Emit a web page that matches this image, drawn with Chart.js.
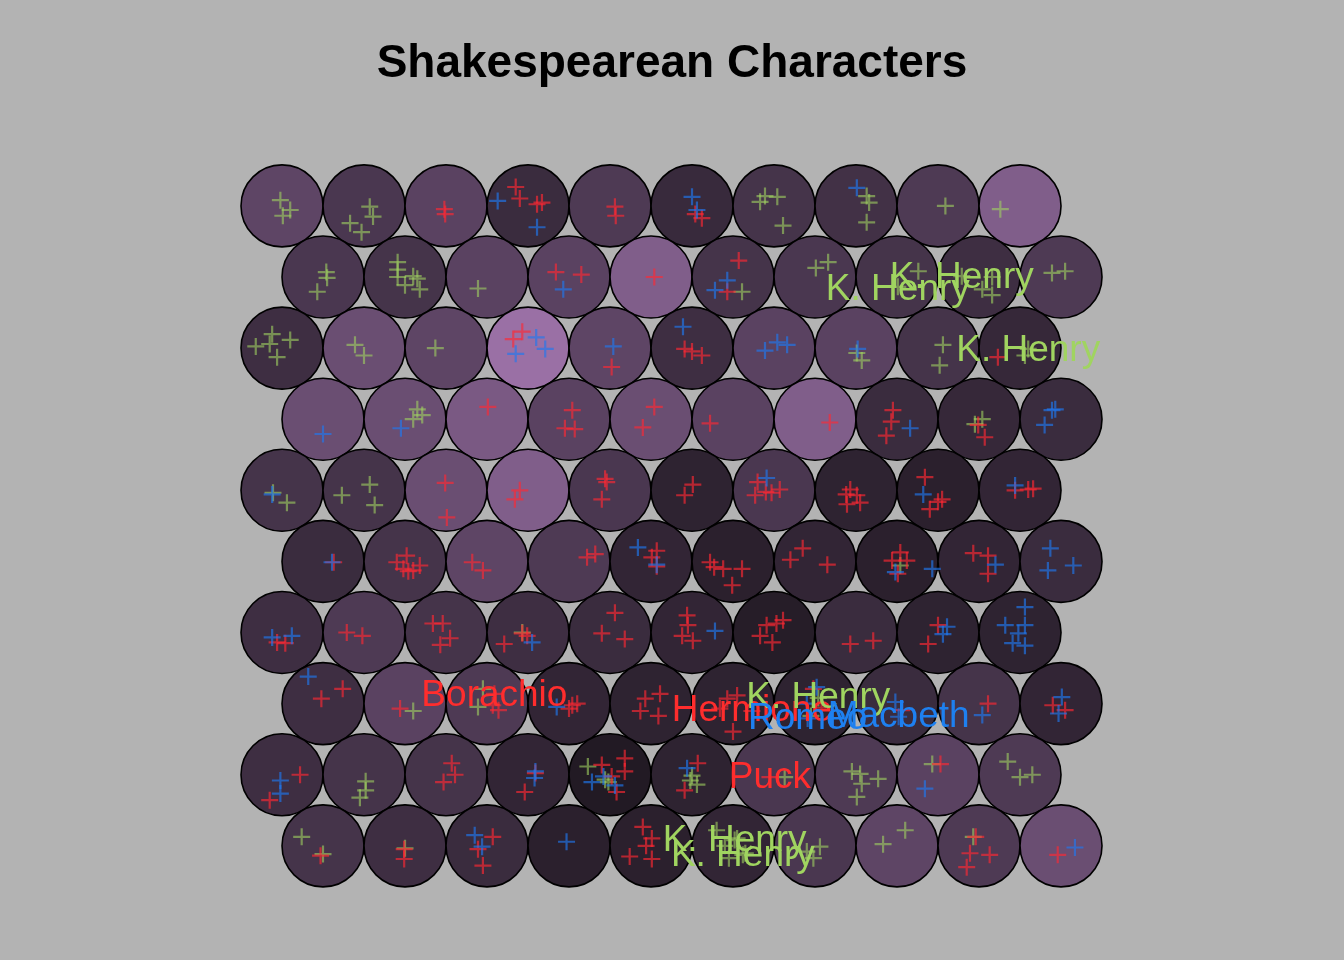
<!DOCTYPE html>
<html><head><meta charset="utf-8">
<script src="https://cdn.jsdelivr.net/npm/chart.js@4/dist/chart.umd.min.js"></script>
<style>html,body{margin:0;padding:0;background:#b3b3b3;}#wrap{width:1344px;height:960px;}</style>
</head><body><div id="wrap"><canvas id="c" width="1344" height="960"></canvas></div>
<script>
// SOM grid 10 x 10 hexagonal, rows numbered from the top
const gridRows = 10, gridCols = 10;
// unit shading (0 = darkest, 1 = lightest)
const unitShade = [
 [0.49,0.33,0.46,0.20,0.36,0.18,0.29,0.26,0.36,0.77],
 [0.33,0.29,0.46,0.46,0.77,0.29,0.33,0.29,0.23,0.36],
 [0.23,0.59,0.49,0.98,0.49,0.23,0.46,0.46,0.29,0.16],
 [0.59,0.59,0.72,0.46,0.59,0.46,0.77,0.20,0.16,0.20],
 [0.29,0.29,0.59,0.77,0.33,0.10,0.33,0.10,0.07,0.13],
 [0.20,0.29,0.49,0.36,0.13,0.07,0.13,0.07,0.13,0.20],
 [0.23,0.36,0.29,0.23,0.20,0.13,0.03,0.20,0.10,0.10],
 [0.23,0.46,0.36,0.13,0.10,0.10,0.10,0.20,0.29,0.13],
 [0.23,0.29,0.29,0.13,0.00,0.10,0.33,0.36,0.46,0.36],
 [0.29,0.23,0.20,0.07,0.07,0.13,0.33,0.49,0.36,0.59]
];
// mapped characters: [row, col, jitterX, jitterY]
const historyPts = [
 [1,1,-0.02,-0.07],[1,1,0.10,0.05],[1,1,0.01,0.12],
 [1,2,0.07,0.01],[1,2,0.11,0.13],[1,2,-0.17,0.21],[1,2,-0.03,0.32],
 [1,7,-0.11,-0.12],[1,7,0.04,-0.11],[1,7,-0.17,-0.05],[1,7,0.11,0.24],
 [1,8,0.13,-0.12],[1,8,0.16,-0.04],[1,8,0.13,0.20],
 [1,9,0.09,0],[1,10,-0.24,0.04],
 [2,1,0.04,-0.06],[2,1,0.05,0.01],[2,1,-0.07,0.18],
 [2,2,-0.09,-0.18],[2,2,-0.09,-0.09],[2,2,-0.09,0],[2,2,0.10,-0.01],[2,2,0.15,0.02],[2,2,0,0.10],[2,2,0.18,0.15],
 [2,3,-0.11,0.14],[2,6,0.11,0.18],
 [2,7,0.01,-0.11],[2,7,0.16,-0.18],
 [2,8,0.26,-0.07],[2,8,0.01,0.12],
 [2,9,0.04,0.15],[2,9,0.16,0.22],[2,9,0.16,0],[2,9,-0.21,-0.01],
 [2,10,-0.11,-0.05],[2,10,0.05,-0.07],
 [3,1,-0.12,-0.17],[3,1,0.10,-0.10],[3,1,-0.15,-0.05],[3,1,-0.32,-0.02],[3,1,-0.06,0.11],
 [3,2,-0.11,-0.04],[3,2,0,0.09],[3,3,-0.13,0],
 [3,8,0.07,0.15],[3,8,0.01,0.06],
 [3,9,0.06,-0.04],[3,9,0.02,0.21],
 [3,10,0.06,0.09],[3,10,0.10,0.01],
 [4,2,0.10,0],[4,2,0.21,-0.05],[4,2,0.15,-0.12],
 [4,9,0.04,0],[4,9,-0.05,0.06],
 [5,1,-0.11,0.03],[5,1,0.06,0.15],
 [5,2,0.07,-0.07],[5,2,-0.27,0.06],[5,2,0.13,0.18],
 [6,8,0.04,0.05],[7,4,-0.07,0],
 [8,2,0.10,0.09],[8,3,-0.05,-0.18],[8,3,-0.11,0.04],
 [8,7,-0.05,0.15],[8,7,0.04,-0.07],
 [9,2,0.02,0.08],[9,2,0.02,0.19],[9,2,-0.05,0.28],
 [9,5,-0.27,-0.10],[9,5,-0.06,0.06],[9,5,-0.02,0.09],
 [9,6,0,0.01],[9,6,0.06,0.12],[9,6,-0.02,0.07],
 [9,7,0.13,0.03],
 [9,8,-0.05,-0.04],[9,8,0.05,-0.01],[9,8,0.27,0.05],[9,8,0.07,0.11],[9,8,0.01,0.27],
 [9,9,-0.07,-0.13],
 [9,10,-0.15,-0.16],[9,10,0,0.03],[9,10,0.15,0],
 [10,1,-0.26,-0.11],[10,1,0,0.10],[10,2,0,0.03],
 [10,6,-0.20,-0.19],[10,6,-0.10,0],[10,6,0.05,-0.09],[10,6,0.15,0.09],[10,6,-0.05,0.15],[10,6,0.02,-0.07],[10,6,0.12,0.11],
 [10,7,0.06,0.01],[10,7,-0.10,0.07],[10,7,-0.02,0.15],
 [10,8,-0.17,-0.02],[10,8,0.10,-0.19],
 [10,9,-0.07,-0.11]
];
const comedyPts = [
 [1,3,-0.02,0.04],[1,3,-0.01,0.10],
 [1,4,-0.15,-0.23],[1,4,-0.10,-0.09],[1,4,0.11,-0.02],[1,4,0.17,-0.04],
 [1,5,0.06,0.01],[1,5,0.07,0.12],
 [1,6,0.04,0.10],[1,6,0.12,0.15],
 [2,4,-0.16,-0.06],[2,4,0.15,-0.03],[2,5,0.04,0],
 [2,6,0.07,-0.20],[2,6,-0.07,0.18],
 [3,4,-0.07,-0.20],[3,4,-0.18,-0.11],[3,5,0.02,0.23],
 [3,6,-0.09,0.01],[3,6,0.0,0.04],[3,6,0.12,0.09],[3,10,-0.27,0.11],
 [4,3,0.01,-0.15],
 [4,4,0.04,-0.11],[4,4,-0.05,0.11],[4,4,0.07,0.12],
 [4,5,0.04,-0.15],[4,5,-0.10,0.10],
 [4,6,-0.28,0.05],[4,7,0.18,0.04],
 [4,8,-0.05,-0.11],[4,8,-0.07,0.03],[4,8,-0.13,0.20],
 [4,9,-0.01,0.07],[4,9,0.07,0.22],
 [5,3,-0.01,-0.09],[5,3,0.01,0.33],
 [5,4,-0.10,0],[5,4,-0.16,0.11],
 [5,5,-0.06,-0.14],[5,5,-0.10,0.11],[5,5,-0.04,-0.10],
 [5,6,0.01,-0.07],[5,6,-0.09,0.06],
 [5,7,-0.20,-0.10],[5,7,-0.23,0.06],[5,7,-0.03,0.03],[5,7,0.07,-0.01],[5,7,-0.10,0.02],
 [5,8,-0.07,-0.01],[5,8,0.01,0.06],[5,8,-0.11,0.17],[5,8,0.05,0.15],[5,8,-0.12,0.05],
 [5,9,-0.16,-0.16],[5,9,0.05,0.11],[5,9,-0.10,0.23],[5,9,0.0,0.14],
 [5,10,-0.06,0],[5,10,0.10,-0.01],[5,10,0.16,-0.02],
 [6,1,0.13,0.01],
 [6,2,-0.10,0.01],[6,2,0.02,-0.07],[6,2,-0.02,0.09],[6,2,0.10,0.11],[6,2,0.18,0.05],[6,2,0.04,0.12],
 [6,3,-0.18,0.01],[6,3,-0.05,0.11],
 [6,4,0.22,-0.05],[6,4,0.32,-0.09],
 [6,5,0.07,-0.13],[6,5,0.01,-0.05],[6,5,0.07,0.06],
 [6,6,-0.28,0.01],[6,6,-0.12,0.09],[6,6,0.11,0.09],[6,6,-0.01,0.29],[6,6,-0.23,0.07],
 [6,7,-0.15,-0.16],[6,7,-0.30,-0.02],[6,7,0.15,0.04],
 [6,8,0.04,-0.11],[6,8,-0.06,-0.01],[6,8,0.12,-0.01],[6,8,0.01,0.15],
 [6,9,-0.07,-0.10],[6,9,0.11,-0.07],[6,9,0.11,0.15],
 [7,1,-0.06,0.12],[7,1,0.04,0.13],
 [7,2,-0.21,0],[7,2,-0.02,0.04],
 [7,3,-0.16,-0.11],[7,3,-0.04,-0.11],[7,3,0.05,0.07],[7,3,-0.07,0.15],
 [7,4,-0.01,0.04],[7,4,-0.29,0.14],[7,4,-0.07,0.01],
 [7,5,0.06,-0.24],[7,5,-0.10,0.01],[7,5,0.18,0.08],
 [7,6,-0.06,-0.21],[7,6,-0.05,-0.09],[7,6,-0.12,0.04],[7,6,0.01,0.10],
 [7,7,-0.09,-0.09],[7,7,0.11,-0.15],[7,7,-0.17,0.04],[7,7,-0.02,0.12],[7,7,0.03,-0.11],
 [7,8,-0.07,0.14],[7,8,0.21,0.10],
 [7,9,0.0,-0.09],[7,9,-0.12,0.14],
 [8,1,0.24,-0.18],[8,1,-0.02,-0.06],[8,2,-0.06,0.06],
 [8,3,0.14,0.08],[8,3,0.07,0.02],[8,3,0.09,-0.12],
 [8,4,0.04,0.02],[8,4,0.10,0],[8,4,0.0,0.06],
 [8,5,-0.07,-0.06],[8,5,0.11,-0.12],[8,5,-0.13,0.09],[8,5,0.09,0.15],
 [8,6,-0.07,-0.06],[8,6,0.05,-0.10],[8,6,0.0,0.34],[8,6,-0.16,0.06],[8,6,0.23,0.09],
 [8,7,-0.02,-0.18],[8,7,0.08,0.05],[8,8,0.06,0.08],[8,9,0.11,0],
 [8,10,-0.10,0.02],[8,10,0.05,0.08],
 [9,1,0.22,0],[9,1,-0.15,0.31],
 [9,3,0.07,-0.14],[9,3,-0.03,0.09],[9,3,0.11,0.0],
 [9,4,0.09,-0.02],[9,4,-0.04,0.21],
 [9,5,0.18,-0.20],[9,5,0.18,-0.04],[9,5,0.08,0.21],[9,5,-0.10,-0.12],[9,5,0.02,0.02],
 [9,6,0.07,-0.14],[9,6,-0.09,0.19],[9,7,-0.05,0.03],[9,9,0.03,-0.13],
 [10,1,-0.03,0.12],[10,2,-0.01,0.04],[10,2,-0.01,0.16],
 [10,3,0.07,-0.11],[10,3,-0.11,0.04],[10,3,-0.05,0.24],
 [10,5,-0.10,-0.23],[10,5,0.01,-0.09],[10,5,-0.26,0.13],[10,5,0.01,0.16],[10,5,-0.06,0.0],
 [10,9,-0.04,-0.11],[10,9,-0.11,0.09],[10,9,0.13,0.11],[10,9,-0.15,0.26],
 [10,10,-0.04,0.11]
];
const tragedyPts = [
 [1,4,-0.37,-0.06],[1,4,0.11,0.26],[1,6,0,-0.11],[1,6,0.06,0.05],[1,8,0.01,-0.22],
 [2,4,-0.07,0.15],[2,6,-0.07,0.04],[2,6,-0.22,0.16],
 [3,4,0.10,-0.13],[3,4,0.21,0.01],[3,4,-0.15,0.07],[3,5,0.04,-0.02],[3,6,-0.11,-0.26],
 [3,7,-0.11,0.03],[3,7,0.04,-0.07],[3,7,0.16,-0.04],[3,8,0.02,0.01],
 [4,1,0,0.18],[4,2,-0.05,0.11],[4,8,0.16,0.11],
 [4,10,-0.11,-0.11],[4,10,-0.20,0.07],[4,10,-0.07,-0.12],
 [5,1,-0.12,0.05],[5,7,-0.09,-0.15],[5,9,-0.18,0.05],[5,10,-0.06,-0.06],
 [6,1,0.11,0.01],[6,5,-0.16,-0.17],[6,5,0.07,0.04],[6,8,-0.02,0.13],[6,8,0.43,0.09],
 [6,9,0.20,0.04],[6,10,-0.13,-0.16],[6,10,-0.16,0.11],[6,10,0.15,0.05],
 [7,1,-0.12,0.06],[7,1,0.12,0.04],[7,4,0.05,0.12],[7,6,0.28,-0.02],
 [7,9,0.11,-0.07],[7,9,0.06,0.02],
 [7,10,0.06,-0.31],[7,10,-0.18,-0.09],[7,10,0.06,-0.09],[7,10,-0.02,0.01],[7,10,-0.09,0.13],[7,10,0.06,0.16],
 [8,1,-0.18,-0.33],[8,4,-0.15,0.04],[8,7,0.02,-0.20],[8,7,-0.10,0.0],[8,7,-0.09,0.18],
 [8,8,-0.02,-0.02],[8,8,0.02,0.16],[8,9,0.04,0.14],[8,10,0.01,-0.08],[8,10,-0.03,0.12],
 [9,1,-0.02,0.07],[9,1,-0.02,0.23],[9,4,0.09,-0.04],[9,4,0.08,0.04],
 [9,5,-0.22,0.09],[9,5,0.06,0.13],[9,5,-0.08,0.02],[9,6,-0.06,-0.08],[9,9,-0.16,0.17],
 [10,3,-0.15,-0.13],[10,3,-0.06,0.01],[10,4,-0.03,-0.05],[10,10,0.17,0.02]
];
// labelled characters
const labelNames = ['K. Henry','K. Henry','K. Henry','Borachio','Hermione','K. Henry','Romeo','Macbeth','Puck','K. Henry','K. Henry'];
const labelGroup = ['history','history','history','comedy','comedy','history','tragedy','tragedy','comedy','history','history'];
const labelCell = [[2,8],[2,9],[3,10],[8,3],[8,6],[8,7],[8,7],[8,8],[9,7],[10,6],[10,6]];
const labelJitter = [[0.01,0.15],[-0.21,0.01],[0.10,0.03],[0.09,-0.10],[0.23,0.09],[0.04,-0.07],[-0.09,0.18],[0.02,0.16],[-0.05,0.04],[0.02,-0.06],[0.12,0.12]];

const markerColor = {history:'rgba(160,210,96,0.6)', comedy:'rgba(255,40,50,0.65)', tragedy:'rgba(30,120,240,0.65)'};
const textColor = {history:'rgb(160,212,96)', comedy:'rgb(255,45,45)', tragedy:'rgb(30,128,240)'};

const unitX = (r,c) => c + (r % 2 === 0 ? 0.5 : 0);
const unitY = (r) => (r - 1) * Math.sqrt(3) / 2;
function shadeColor(s){
  const d=[34,26,36], l=[156,114,168];
  return 'rgb(' + d.map((v,i)=>Math.round(v+(l[i]-v)*s)).join(',') + ')';
}
const units = [], unitColors = [];
for (let r = 1; r <= gridRows; r++) for (let c = 1; c <= gridCols; c++) {
  units.push({x: unitX(r,c), y: unitY(r)});
  unitColors.push(shadeColor(unitShade[r-1][c-1]));
}
const toXY = pts => pts.map(p => ({x: unitX(p[0],p[1]) + p[2], y: unitY(p[0]) + p[3]}));

function unitRadius(ctx){
  const xs = ctx.chart.scales && ctx.chart.scales.x;
  if (!xs) return 40;
  return Math.abs(xs.getPixelForValue(0.5) - xs.getPixelForValue(0));
}
function crossDS(pts, group, order){
  return {data: toXY(pts), pointStyle:'cross', pointRadius:8.5, pointHoverRadius:8.5,
    borderColor: markerColor[group], backgroundColor: markerColor[group], pointBorderWidth:2.2,
    borderWidth:2.2, showLine:false, clip:false, order: order};
}
const labelPlugin = {
  id:'charLabels',
  afterDatasetsDraw(chart){
    const {ctx, scales:{x, y}} = chart;
    ctx.save();
    ctx.font = '37px "Liberation Sans", Arial, sans-serif';
    ctx.textAlign = 'center'; ctx.textBaseline = 'middle';
    labelNames.forEach((n,i) => {
      const [r,c] = labelCell[i];
      ctx.fillStyle = textColor[labelGroup[i]];
      ctx.fillText(n, x.getPixelForValue(unitX(r,c) + labelJitter[i][0]), y.getPixelForValue(unitY(r) + labelJitter[i][1]));
    });
    ctx.restore();
  }
};
new Chart(document.getElementById('c'), {
  type:'scatter',
  data:{datasets:[
    {data: units, pointStyle:'circle', pointRadius: unitRadius, pointHoverRadius: unitRadius,
     backgroundColor: unitColors, borderColor:'#000', pointBorderWidth:1.6, borderWidth:1.6, clip:false, order:4},
    crossDS(historyPts,'history',3),
    crossDS(comedyPts,'comedy',2),
    crossDS(tragedyPts,'tragedy',1)
  ]},
  options:{
    responsive:false, animation:false, devicePixelRatio:1, events:[],
    layout:{padding:{left:221, right:221, top:0, bottom:48}},
    plugins:{
      legend:{display:false}, tooltip:{enabled:false},
      title:{display:true, text:'Shakespearean Characters', color:'#000',
        font:{family:'"Liberation Sans", Arial, sans-serif', size:46, weight:'bold'}, padding:{top:37, bottom:48}}
    },
    scales:{
      x:{type:'linear', min:0.256, max:11.256, display:false},
      y:{type:'linear', min:-0.8, max:8.6, reverse:true, display:false}
    }
  },
  plugins:[labelPlugin]
});
</script></body></html>
